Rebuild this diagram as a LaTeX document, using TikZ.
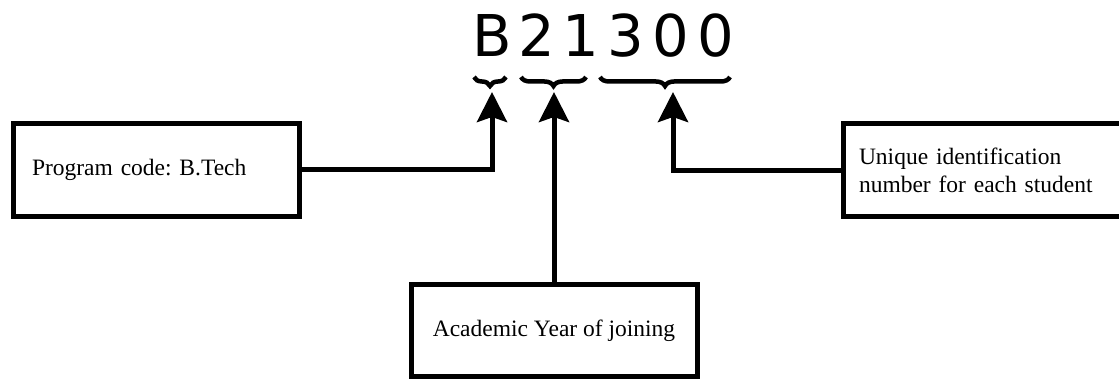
\documentclass[tikz,border=0pt]{standalone}
\usepackage{fontspec}
\setmainfont{Liberation Serif}
\newfontfamily\digitfont{DejaVu Sans}
\usetikzlibrary{arrows.meta,decorations.pathreplacing}
\frenchspacing
\begin{document}
\begin{tikzpicture}[x=1pt,y=-1pt,
  box/.style={draw,line width=5pt,inner sep=0pt,font=\fontsize{23.5}{28}\selectfont},
  arr/.style={line width=5pt,-{Stealth[length=30pt,width=30pt,inset=5pt]}},
  brc/.style={line width=4.5pt,decorate,decoration={brace,mirror,amplitude=9pt}},
  dig/.style={font=\digitfont\fontsize{57.6}{60}\selectfont,inner sep=0pt,anchor=base}]
\useasboundingbox (0,0) rectangle (1119,379);
% code characters
\node[dig] (dB) at (492,57) {B};
\node[dig] (d2) at (537,57) {2};
\node[dig] (d1) at (581,57) {1};
\node[dig] (d3) at (626,57) {3};
\node[dig] (d0a) at (671,57) {0};
\node[dig] (d0b) at (716,57) {0};
% braces
\draw[brc] (474,77) -- (506,77);
\draw[brc] (521,77) -- (586,77);
\draw[brc] (600,77) -- (730,77);
% boxes
\node[box,minimum width=286pt,minimum height=93pt,text width=248pt,align=left,inner xsep=19pt] (prog) at (156,170) {Program code: B.Tech};
\node[box,minimum width=297pt,minimum height=93.5pt,text width=265pt,align=left,inner xsep=16pt] (uniq) at (991.5,170.25) {Unique identification\\number for each student};
\node[box,minimum width=286pt,minimum height=91pt] (year) at (554,330.5) {Academic Year of joining};
% arrow targets
\coordinate (tB) at (492,92);
\coordinate (t21) at (554,92);
\coordinate (t300) at (673,92);
% connectors
\draw[arr] (prog.east) -| (tB);
\draw[arr] (year.north) -- (t21);
\draw[arr] (uniq.west) -| (t300);
\end{tikzpicture}
\end{document}
